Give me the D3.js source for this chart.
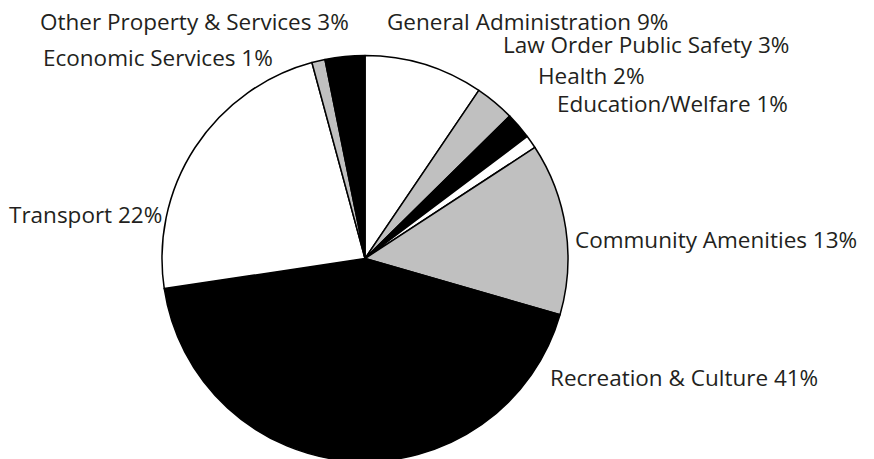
<!DOCTYPE html>
<html>
<head>
<meta charset="utf-8">
<script src="https://cdn.jsdelivr.net/npm/d3@7"></script>
<style>
  html, body { margin: 0; padding: 0; background: #fff; }
  svg { display: block; }
  text { font-family: "Open Sans", "Noto Sans", sans-serif; fill: #231f20; }
</style>
</head>
<body>
<svg id="chart" width="874" height="459"></svg>
<script>
// Expenditure by program, percent of total
const categories = [
  "General Administration",
  "Law Order Public Safety",
  "Health",
  "Education/Welfare",
  "Community Amenities",
  "Recreation & Culture",
  "Transport",
  "Economic Services",
  "Other Property & Services"
];
const shares = [9, 3, 2, 1, 13, 41, 22, 1, 3];
const fills = ["#ffffff", "#c0c0c0", "#000000", "#ffffff", "#c0c0c0", "#000000", "#ffffff", "#c0c0c0", "#000000"];

// Label anchors (left edge, baseline) relative to the pie centre
const labelAnchors = [
  [22, -229], [138, -206], [173, -175], [192, -147],
  [210, -11], [185, 127], [-356, -36], [-322, -193], [-325, -229]
];

const W = 874, H = 459;
const cx = 365, cy = 258.5, R = 203;

const svg = d3.select("#chart");
const g = svg.append("g").attr("transform", `translate(${cx},${cy})`);

const pie = d3.pie().sort(null).value(d => d.value);
const arc = d3.arc().innerRadius(0).outerRadius(R);

const data = categories.map((c, i) => ({ name: c, value: shares[i], fill: fills[i] }));

g.selectAll("path.slice")
  .data(pie(data))
  .join("path")
  .attr("class", "slice")
  .attr("d", arc)
  .attr("fill", d => d.data.fill)
  .attr("stroke", "#000")
  .attr("stroke-width", 1.5)
  .attr("stroke-linejoin", "round");

g.selectAll("text.label")
  .data(data)
  .join("text")
  .attr("class", "label")
  .attr("x", (d, i) => labelAnchors[i][0])
  .attr("y", (d, i) => labelAnchors[i][1])
  .attr("font-size", 22.5)
  .text(d => `${d.name} ${d.value}%`);
</script>
</body>
</html>
